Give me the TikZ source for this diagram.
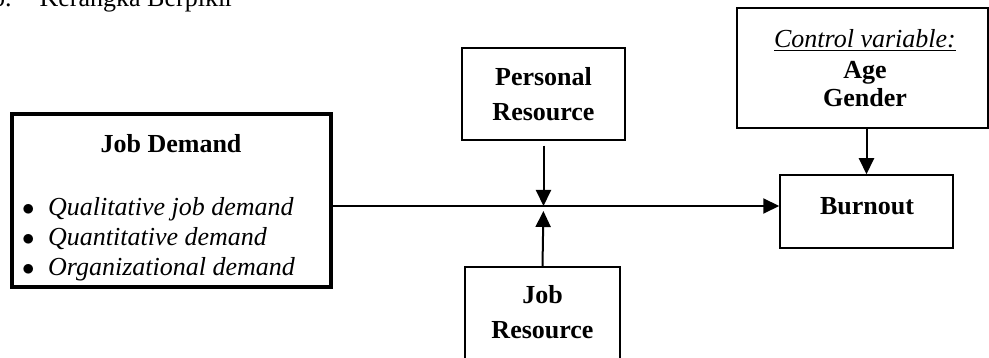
\documentclass[tikz,border=0pt]{standalone}
\usepackage{fontspec}
\setmainfont{Liberation Serif}
\usetikzlibrary{arrows.meta}
\begin{document}
\begin{tikzpicture}[x=1pt,y=-1pt,
  font=\fontsize{26}{30}\selectfont,
  box/.style={draw, line width=1.5pt, inner sep=0pt},
  lbl/.style={inner sep=0pt, anchor=base},
  itm/.style={inner sep=0pt, anchor=base west},
  arr/.style={line width=2pt, -{Triangle[length=16pt,width=15pt]}}]
\useasboundingbox (0,0) rectangle (989,358);
\clip (0,0) rectangle (989,358);
% heading (cut at top)
\node[itm] (head) at (-8,7) {b.\hspace{28pt}Kerangka Berpikir};
% boxes
\node[box, line width=4.5pt, minimum width=319pt, minimum height=173pt] (jd) at (171.5,200.5) {};
\node[box, minimum width=163pt, minimum height=92pt] (pr) at (543.5,94) {};
\node[box, minimum width=155pt, minimum height=122pt] (jr) at (542.5,328) {};
\node[box, line width=2.7pt, minimum width=251pt, minimum height=120pt] (cv) at (862.5,68) {};
\node[box, minimum width=173pt, minimum height=73pt] (bo) at (866.5,211.5) {};
% texts
\node[lbl] (jdt) at (171,153) {\textbf{Job Demand}};
\node[itm] (b1) at (22,216) {\makebox[26pt][l]{$\bullet$}\textit{Qualitative job demand}};
\node[itm] (b2) at (22,246) {\makebox[26pt][l]{$\bullet$}\textit{Quantitative demand}};
\node[itm] (b3) at (22,276) {\makebox[26pt][l]{$\bullet$}\textit{Organizational demand}};
\node[lbl] (prt1) at (543.5,86) {\textbf{Personal}};
\node[lbl] (prt2) at (543.5,121) {\textbf{Resource}};
\node[lbl] (jrt1) at (542.5,304) {\textbf{Job}};
\node[lbl] (jrt2) at (542.5,339) {\textbf{Resource}};
\node[lbl] (cvt1) at (865,48) {\underline{\textit{Control variable:}}};
\node[lbl] (cvt2) at (865,79) {\textbf{Age}};
\node[lbl] (cvt3) at (865,107) {\textbf{Gender}};
\node[lbl] (bot) at (867,215) {\textbf{Burnout}};
% connectors
\coordinate (m) at (543.5,206);
\draw[arr] (jd.east |- m) -- (bo.west |- m);
\draw[arr, shorten <=5pt] (pr.south) -- (m);
\draw[arr, shorten >=5pt] (jr.north) -- (m);
\draw[arr] (cv.south -| bo.north) -- (bo.north);
\end{tikzpicture}
\end{document}
